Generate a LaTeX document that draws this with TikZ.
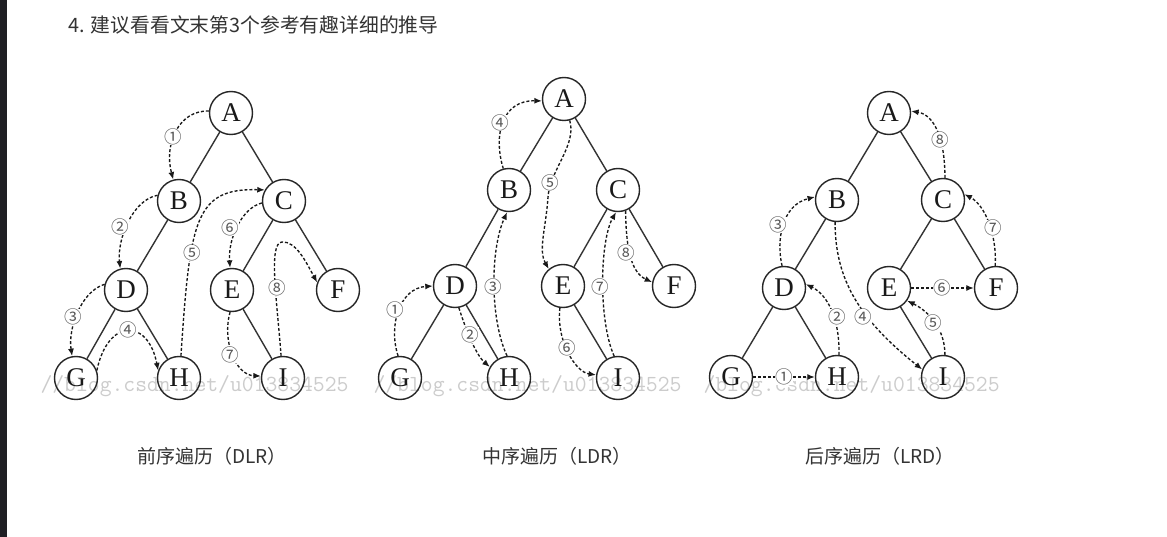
\documentclass[tikz,border=0pt]{standalone}
\usepackage{fontspec}
\setmainfont{Liberation Serif}
\newfontfamily\cjk{Noto Sans CJK SC}
\usetikzlibrary{arrows.meta}
\definecolor{stripcol}{HTML}{1F1F24}
\begin{document}
\begin{tikzpicture}[x=1pt,y=-1pt,
  tn/.style={circle,draw=black!85,line width=1.4pt,minimum size=43pt,inner sep=0pt,font=\fontsize{27}{27}\selectfont,text=black!90},
  te/.style={draw=black!80,line width=1.4pt},
  ta/.style={draw=black!90,line width=1.35pt,dash pattern=on 3pt off 2pt,-{Latex[length=7.5pt,width=6pt]}},
  nl/.style={font=\cjk\fontsize{17.5}{17.5}\selectfont,text=black!65,fill=white,inner sep=0pt},
  wm/.style={font=\ttfamily\fontsize{23}{23}\selectfont,text=black!20,anchor=base west},
  captxt/.style={font=\cjk\fontsize{19}{19}\selectfont,text=black!80}]
\useasboundingbox (0,0) rectangle (1167,537);
\fill[white] (0,0) rectangle (1167,537);
\fill[stripcol] (0,0) rectangle (7,537);

\node[anchor=west,font=\cjk\fontsize{19.8}{19.8}\selectfont,text=black!80] (title) at (65,25) {4. 建议看看文末第3个参考有趣详细的推导};

% watermarks
\node[wm] (wm1) at (37,391) {//blog.csdn.net/u013834525};
\node[wm] (wm2) at (370,391) {//blog.csdn.net/u013834525};
\node[wm] (wm3) at (700,391) {/blog.csdn.net/u013834525};

% ---------- tree 1 (DLR)
\node[tn] (A1) at (231,113) {A};
\node[tn] (B1) at (179,201) {B};
\node[tn] (C1) at (284,201) {C};
\node[tn] (D1) at (126,290) {D};
\node[tn] (E1) at (232,290) {E};
\node[tn] (F1) at (338,290) {F};
\node[tn] (G1) at (76,378) {G};
\node[tn] (H1) at (179,378) {H};
\node[tn] (I1) at (283,378) {I};
\draw[te] (A1) -- (B1); \draw[te] (A1) -- (C1);
\draw[te] (B1) -- (D1);
\draw[te] (C1) -- (E1); \draw[te] (C1) -- (F1);
\draw[te] (D1) -- (G1); \draw[te] (D1) -- (H1);
\draw[te] (E1) -- (I1);
\draw[ta] (A1.175) .. controls (178,110) and (164,145) .. (B1.105);
\draw[ta] (B1.165) .. controls (132,200) and (117,240) .. (D1.105);
\draw[ta] (D1.165) .. controls (80,292) and (68,330) .. (G1.100);
\draw[ta] (G1.20) .. controls (108,318) and (148,318) .. (H1.160);
\draw[ta] (H1.85) .. controls (190,220) and (195,188) .. (C1.150);
\draw[ta] (C1.185) .. controls (242,208) and (228,238) .. (E1.95);
\draw[ta] (E1.265) .. controls (222,340) and (235,375) .. (I1.175);
\draw[ta] (I1.95) .. controls (277,300) and (268,243) .. (282,242) .. controls (296,241) and (306,262) .. (F1.160);
\node[nl] (p11) at (173,137) {①};
\node[nl] (p12) at (120,227) {②};
\node[nl] (p13) at (73,317) {③};
\node[nl] (p14) at (128,330) {④};
\node[nl] (p15) at (192,253) {⑤};
\node[nl] (p16) at (230,228) {⑥};
\node[nl] (p17) at (230,355) {⑦};
\node[nl] (p18) at (277,288) {⑧};
\node[captxt] (cap1) at (212,456) {前序遍历（DLR）};

% ---------- tree 2 (LDR)
\node[tn] (A2) at (564,99) {A};
\node[tn] (B2) at (509,190) {B};
\node[tn] (C2) at (618,190) {C};
\node[tn] (D2) at (455,286) {D};
\node[tn] (E2) at (563,286) {E};
\node[tn] (F2) at (674,286) {F};
\node[tn] (G2) at (400,378) {G};
\node[tn] (H2) at (509,378) {H};
\node[tn] (I2) at (618,378) {I};
\draw[te] (A2) -- (B2); \draw[te] (A2) -- (C2);
\draw[te] (B2) -- (D2);
\draw[te] (C2) -- (E2); \draw[te] (C2) -- (F2);
\draw[te] (D2) -- (G2); \draw[te] (D2) -- (H2);
\draw[te] (E2) -- (I2);
\draw[ta] (G2.95) .. controls (388,325) and (400,288) .. (D2.180);
\draw[ta] (D2.-80) .. controls (466,330) and (476,355) .. (H2.150);
\draw[ta] (H2.95) .. controls (490,320) and (490,250) .. (B2.265);
\draw[ta] (B2.105) .. controls (493,135) and (502,100) .. (A2.185);
\draw[ta] (A2.-75) .. controls (577,145) and (550,170) .. (548,197) .. controls (546,228) and (538,250) .. (E2.130);
\draw[ta] (E2.262) .. controls (556,340) and (575,372) .. (I2.172);
\draw[ta] (I2.100) .. controls (598,320) and (600,240) .. (C2.265);
\draw[ta] (C2.-70) .. controls (626,245) and (630,272) .. (F2.170);
\node[nl] (p21) at (395,310) {①};
\node[nl] (p22) at (470,335) {②};
\node[nl] (p23) at (493,287) {③};
\node[nl] (p24) at (500,123) {④};
\node[nl] (p25) at (550,183) {⑤};
\node[nl] (p26) at (567,348) {⑥};
\node[nl] (p27) at (600,287) {⑦};
\node[nl] (p28) at (626,253) {⑧};
\node[captxt] (cap2) at (557,456) {中序遍历（LDR）};

% ---------- tree 3 (LRD)
\node[tn] (A3) at (889,113) {A};
\node[tn] (B3) at (837,200) {B};
\node[tn] (C3) at (943,200) {C};
\node[tn] (D3) at (784,288) {D};
\node[tn] (E3) at (889,288) {E};
\node[tn] (F3) at (996,288) {F};
\node[tn] (G3) at (731,377) {G};
\node[tn] (H3) at (837,377) {H};
\node[tn] (I3) at (943,377) {I};
\draw[te] (A3) -- (B3); \draw[te] (A3) -- (C3);
\draw[te] (B3) -- (D3);
\draw[te] (C3) -- (E3); \draw[te] (C3) -- (F3);
\draw[te] (D3) -- (G3); \draw[te] (D3) -- (H3);
\draw[te] (E3) -- (I3);
\draw[ta] (G3) -- (H3);
\draw[ta] (H3.85) .. controls (840,320) and (828,295) .. (D3.10);
\draw[ta] (D3.95) .. controls (776,240) and (782,205) .. (B3.172);
\draw[ta] (B3.-95) .. controls (835,280) and (860,320) .. (I3.160);
\draw[ta] (I3.85) .. controls (945,330) and (930,312) .. (E3.-35);
\draw[ta] (E3) -- (F3);
\draw[ta] (F3.92) .. controls (997,235) and (985,205) .. (C3.15);
\draw[ta] (C3.85) .. controls (945,140) and (935,115) .. (A3.5);
\node[nl] (p31) at (784,377) {①};
\node[nl] (p32) at (837,317) {②};
\node[nl] (p33) at (778,225) {③};
\node[nl] (p34) at (863,317) {④};
\node[nl] (p35) at (933,323) {⑤};
\node[nl] (p36) at (942,288) {⑥};
\node[nl] (p37) at (993,228) {⑦};
\node[nl] (p38) at (940,140) {⑧};
\node[captxt] (cap3) at (880,456) {后序遍历（LRD）};
\end{tikzpicture}
\end{document}
